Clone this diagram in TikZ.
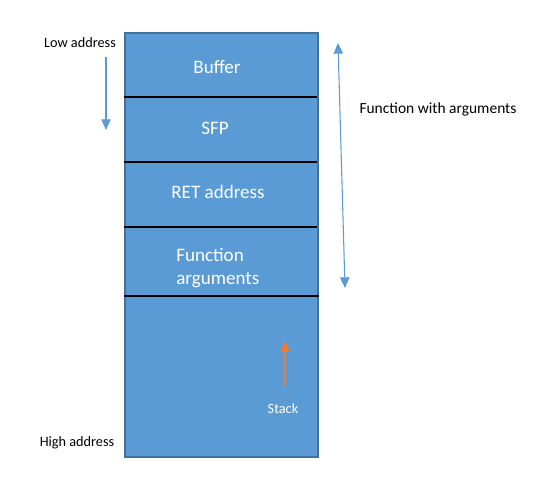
\documentclass[tikz,border=0pt]{standalone}
\usepackage{fontspec}
\setmainfont{Carlito}
\usetikzlibrary{arrows.meta}
\definecolor{boxfill}{HTML}{5B9BD5}
\definecolor{boxedge}{HTML}{41719C}
\definecolor{arrblue}{HTML}{5B9BD5}
\definecolor{arrorange}{HTML}{ED7D31}
\tikzset{
  lbl/.style={font=\fontsize{10.7}{13}\selectfont, text=black, inner sep=0pt},
  seglbl/.style={font=\fontsize{14.3}{17}\selectfont, text=white, inner sep=0pt},
  sep/.style={draw=black, line width=0.8pt},
  bluearrow/.style={draw=arrblue, line width=0.8pt, -{Triangle[length=8pt,width=7pt]}},
}
\begin{document}
\begin{tikzpicture}[x=0.75pt,y=-0.75pt]
\useasboundingbox (0,0) rectangle (552,488);
\node[draw=boxedge, fill=boxfill, line width=1.6pt, minimum width=193*0.75pt, minimum height=424*0.75pt, inner sep=0pt, anchor=north west] (stack) at (124,32) {};
\coordinate (l1a) at (124,97); \coordinate (l1b) at (317,97);
\coordinate (l2a) at (124,162); \coordinate (l2b) at (317,162);
\coordinate (l3a) at (124,227); \coordinate (l3b) at (317,227);
\coordinate (l4a) at (124,296); \coordinate (l4b) at (319,296);
\draw[sep] (l1a) -- (l1b);
\draw[sep] (l2a) -- (l2b);
\draw[sep] (l3a) -- (l3b);
\draw[sep] (l4a) -- (l4b);
\node[seglbl] (buf) at (217,67) {Buffer};
\node[seglbl] (sfp) at (215,128) {SFP};
\node[seglbl] (ret) at (218,192) {RET address};
\node[seglbl, align=left, anchor=west, font=\fontsize{14.3}{17.5}\selectfont] (args) at (176,268) {Function\\arguments};
\node[font=\fontsize{10.7}{12}\selectfont, text=white, inner sep=0pt] (stk) at (283,409) {Stack};
\coordinate (oa) at (285,386); \coordinate (ob) at (285,341);
\draw[draw=arrorange, line width=0.8pt, -{Triangle[length=8pt,width=7pt]}] (oa) -- (ob);
\node[lbl] (low) at (80,43) {Low address};
\node[lbl] (high) at (77,443) {High address};
\coordinate (da) at (106,57); \coordinate (db) at (106,130);
\draw[bluearrow] (da) -- (db);
\node[lbl, font=\fontsize{11.6}{14}\selectfont] (fwa) at (438,109) {Function with arguments};
\coordinate (ua) at (338,43); \coordinate (ub) at (345,288);
\draw[draw=arrblue, line width=0.8pt, {Triangle[length=8pt,width=7pt]}-{Triangle[length=8pt,width=7pt]}] (ua) -- (ub);
\end{tikzpicture}
\end{document}
